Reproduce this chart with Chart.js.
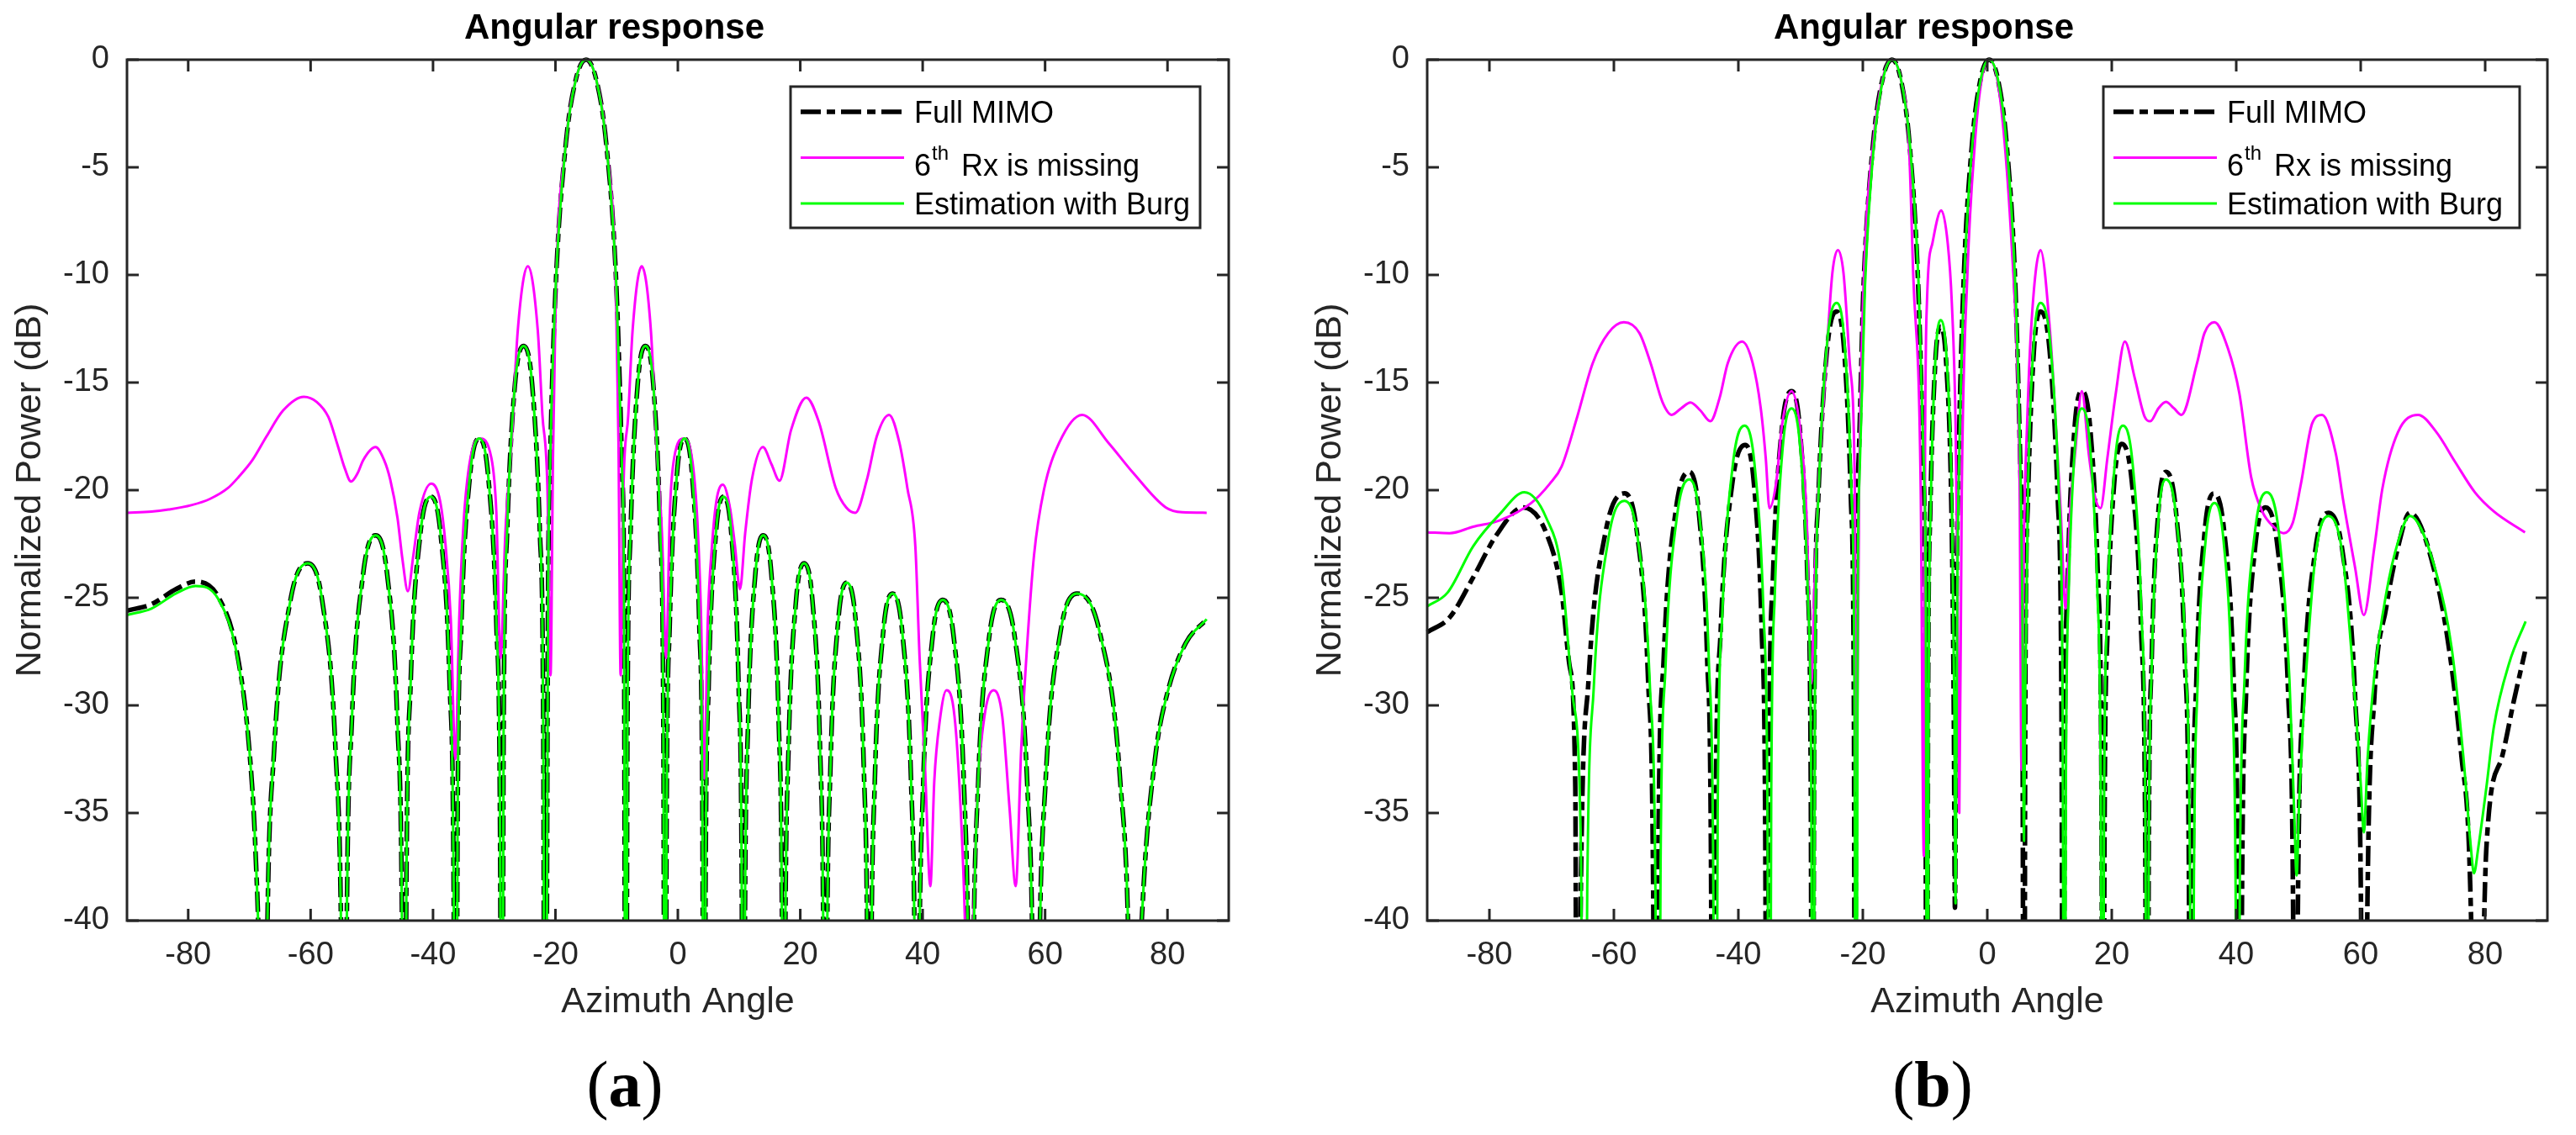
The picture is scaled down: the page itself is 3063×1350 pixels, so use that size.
<!DOCTYPE html>
<html>
<head>
<meta charset="utf-8">
<title>Angular response</title>
<script src="https://cdn.jsdelivr.net/npm/chart.js@4.4.1/dist/chart.umd.min.js"></script>
<style>
  html, body { margin: 0; padding: 0; background: #ffffff; }
  body { width: 3063px; height: 1350px; position: relative; overflow: hidden; }
  canvas { position: absolute; top: 0; }
  #chartA { left: 0; width: 1531px; height: 1225px; }
  #chartB { left: 1546px; width: 1517px; height: 1225px; }
  .sub { position: absolute; top: 1251px; width: 200px; margin-left: -100px; text-align: center;
         font-family: "Liberation Serif", "Times New Roman", serif; font-size: 78px; line-height: 1; color: #000; }
  .sub b { font-weight: bold; }
</style>
</head>
<body>
<canvas id="chartA" width="1531" height="1225"></canvas>
<canvas id="chartB" width="1517" height="1225"></canvas>
<div class="sub" style="left:743px">(<b>a</b>)</div>
<div class="sub" style="left:2298px">(<b>b</b>)</div>

<script>
// tick values, same on both panels
const xTickValues = [-80, -60, -40, -20, 0, 20, 40, 60, 80];
const yTickValues = [-40, -35, -30, -25, -20, -15, -10, -5, 0];

// legend text, ^{..} is a superscript like in matlab
const legendLabels = ['Full MIMO', '6^{th} Rx is missing', 'Estimation with Burg'];

// ---------------- panel (a) ----------------
// angles for Full MIMO and Burg (they share the same nulls here)
const angleA = [
  -90, -86, -82, -78.8, -75, -72, -70, -69, -68.3, -67.7,
  -67.12, -65.96, -63.35, -60.45, -58.07, -55.93, -54.98, -54.5,
  -54.09, -53.27, -51.42, -49.37, -47.5, -45.82, -45.07, -44.7,
  -44.35, -43.66, -42.1, -40.37, -38.74, -37.28, -36.63, -36.3,
  -35.99, -35.38, -33.99, -32.45, -30.97, -29.64, -29.05, -28.75,
  -28.47, -27.9, -26.62, -25.2, -23.8, -22.54, -21.98, -21.7,
  -21.2, -20.9, -19.95, -18.3, -16.65, -15, -13.35, -11.7, -10.05, -9.1, -8.8, -8.5,
  -8.24, -7.73, -6.57, -5.29, -4.01, -2.87, -2.36, -2.1,
  -1.84, -1.33, -0.19, 1.09, 2.36, 3.51, 4.02, 4.27,
  4.53, 5.04, 6.19, 7.47, 8.76, 9.92, 10.44, 10.7,
  10.96, 11.48, 12.66, 13.96, 15.28, 16.48, 17.01, 17.27,
  17.54, 18.08, 19.29, 20.63, 22.01, 23.24, 23.79, 24.07,
  24.35, 24.92, 26.19, 27.6, 29.07, 30.39, 30.98, 31.27,
  31.57, 32.18, 33.55, 35.07, 36.67, 38.1, 38.74, 39.06,
  39.4, 40.07, 41.59, 43.28, 45.1, 46.75, 47.48, 47.84,
  48.24, 49.04, 50.83, 52.82, 55.08, 57.11, 58.02, 58.47,
  59.01, 60.09, 62.51, 65.2, 68.92, 72.27, 73.76, 74.5,
  75.2, 76, 78, 80, 83, 86.4
];
const fullMimoA = [
  -25.6, -25.3, -24.6, -24.25, -25.0, -27.6, -32.1, -36.8, -43.7, -60,
  -41.4, -32.1, -25.2, -23.4, -25.2, -32.1, -41.4, -60,
  -40.1, -30.8, -23.9, -22.1, -23.9, -30.8, -40.1, -60,
  -38.3, -29.0, -22.1, -20.3, -22.1, -29.0, -38.3, -60,
  -35.6, -26.3, -19.4, -17.6, -19.4, -26.3, -35.6, -60,
  -31.3, -22.0, -15.1, -13.3, -15.1, -22.0, -31.3, -60,
  -24.7, -19.2, -10.5, -3.9, -0.9, 0, -0.9, -3.9, -10.5, -19.2, -24.7, -60,
  -31.3, -22.0, -15.1, -13.3, -15.1, -22.0, -31.3, -60,
  -35.6, -26.3, -19.4, -17.6, -19.4, -26.3, -35.6, -60,
  -38.3, -29.0, -22.1, -20.3, -22.1, -29.0, -38.3, -60,
  -40.1, -30.8, -23.9, -22.1, -23.9, -30.8, -40.1, -60,
  -41.4, -32.1, -25.2, -23.4, -25.2, -32.1, -41.4, -60,
  -42.3, -33.0, -26.1, -24.3, -26.1, -33.0, -42.3, -60,
  -42.8, -33.5, -26.6, -24.8, -26.6, -33.5, -42.8, -60,
  -43.1, -33.8, -26.9, -25.1, -26.9, -33.8, -43.1, -60,
  -43.1, -33.8, -26.9, -25.1, -26.9, -33.8, -43.1, -60,
  -42.8, -33.5, -26.6, -24.8, -26.6, -33.5, -42.8, -60,
  -45, -38.9, -32.4, -29.4, -27.1, -26.0
];
const burgA = [
  -25.8, -25.5, -24.8, -24.45, -25.1, -27.7, -32.1, -36.8, -43.7, -60,
  -41.4, -32.1, -25.2, -23.4, -25.2, -32.1, -41.4, -60,
  -40.1, -30.8, -23.9, -22.1, -23.9, -30.8, -40.1, -60,
  -38.3, -29.0, -22.1, -20.3, -22.1, -29.0, -38.3, -60,
  -35.6, -26.3, -19.4, -17.6, -19.4, -26.3, -35.6, -60,
  -31.3, -22.0, -15.1, -13.3, -15.1, -22.0, -31.3, -60,
  -24.7, -19.2, -10.5, -3.9, -0.9, 0, -0.9, -3.9, -10.5, -19.2, -24.7, -60,
  -31.3, -22.0, -15.1, -13.3, -15.1, -22.0, -31.3, -60,
  -35.6, -26.3, -19.4, -17.6, -19.4, -26.3, -35.6, -60,
  -38.3, -29.0, -22.1, -20.3, -22.1, -29.0, -38.3, -60,
  -40.1, -30.8, -23.9, -22.1, -23.9, -30.8, -40.1, -60,
  -41.4, -32.1, -25.2, -23.4, -25.2, -32.1, -41.4, -60,
  -42.3, -33.0, -26.1, -24.3, -26.1, -33.0, -42.3, -60,
  -42.8, -33.5, -26.6, -24.8, -26.6, -33.5, -42.8, -60,
  -43.1, -33.8, -26.9, -25.1, -26.9, -33.8, -43.1, -60,
  -43.1, -33.8, -26.9, -25.1, -26.9, -33.8, -43.1, -60,
  -42.8, -33.5, -26.6, -24.8, -26.6, -33.5, -42.8, -60,
  -45, -38.9, -32.4, -29.4, -27.1, -26.0
];
// 6th Rx missing, own angle list
const angleMissingA = [
  -90, -86, -83.2, -79.5, -76.4, -73.5, -71.8, -69.5, -67.2, -64.5,
  -61.1, -59, -57.1, -55.6, -54.4, -53.4, -52.3, -51.4, -49.4, -48,
  -47, -45.8, -45.0, -44.1, -43.2, -42.2, -40.3, -38.85, -37.97, -37.1,
  -36.34, -35.72, -35.0, -34.0, -32.35, -30.47, -29.66, -28.97, -28.18, -27.17,
  -26.16, -24.5, -22.88, -22.13, -21.3, -20.8, -20.4, -19.95, -18.3, -16.65,
  -15, -13.35, -11.7, -10.1, -9.7, -9.35, -8.9, -8.1, -7.4, -5.9,
  -4.4, -3.5, -2.6, -1.9, -1.3, -0.6, 1.0, 2.4, 3.2, 3.8,
  4.3, 4.9, 5.6, 6.3, 7.35, 8.5, 9.3, 10.15, 11.0, 12.1,
  13.9, 15.3, 16.6, 18.5, 21.0, 23, 25.8, 27.5, 29.0, 30.9,
  32.5, 34.5, 36.2, 37.5, 38.8, 39.5, 40.4, 41.25, 41.9, 42.8,
  43.9, 45.2, 46.2, 46.9, 47.6, 48.3, 49.0, 50.1, 51.6, 53.0,
  54.2, 55.2, 56.1, 57.0, 58.2, 59.8, 62.3, 66.05, 70.35, 74.4,
  79.7, 82.4, 86.4
];
const missingA = [
  -21.05, -21.0, -20.9, -20.7, -20.4, -19.9, -19.4, -18.6, -17.5, -16.3,
  -15.66, -15.9, -16.6, -17.9, -19.0, -19.6, -19.2, -18.6, -18.0, -18.6,
  -19.5, -21.3, -23.2, -24.7, -23.0, -21.0, -19.7, -20.5, -22.5, -26,
  -32.5, -26, -21.5, -18.7, -17.6, -18.5, -21, -27.8, -22, -17.8,
  -12.6, -9.6, -12.6, -16.5, -20, -28.6, -18.5, -11, -3.9, -0.9,
  0, -0.9, -3.9, -11, -17.8, -28.6, -20, -16.5, -12.6, -9.6,
  -12.6, -17.8, -22, -27.8, -21, -18.5, -17.6, -18.7, -21.5, -26,
  -33.4, -26, -22.5, -20.5, -19.75, -20.8, -22.5, -24.6, -22, -19.5,
  -18.0, -18.8, -19.56, -17.2, -15.7, -16.8, -19.9, -20.8, -21.05, -19.5,
  -17.5, -16.5, -17.8, -19.9, -22.6, -27.8, -33, -38.4, -33.5, -30.7,
  -29.3, -30.5, -34.8, -40, -50, -40, -34, -30.5, -29.3, -30.5,
  -34.8, -38.4, -32, -27.5, -23, -20, -17.8, -16.5, -17.8, -19.2,
  -20.8, -21.03, -21.05
];

// ---------------- panel (b) ----------------
const angleFullB = [
  -90, -86.35, -82.6, -78.9, -74.6, -70.85, -68.4, -67.1, -66.2, -65.9,
  -65.29, -64.08, -61.34, -58.3, -56.3, -54.5, -53.7, -53.3,
  -52.87, -52.0, -50.06, -47.9, -46.38, -45.01, -44.4, -44.1,
  -43.68, -42.85, -40.98, -38.9, -37.5, -36.24, -35.68, -35.4,
  -35.08, -34.45, -33.03, -31.45, -30.11, -28.9, -28.37, -28.1,
  -27.79, -27.16, -25.76, -24.2, -23.0, -21.92, -21.44, -21.2,
  -21.1, -20.79, -19.88, -18.35, -16.83, -15.3, -13.9, -12.5, -11.1, -10.26, -9.98, -9.7,
  -9.52, -9.17, -8.38, -7.5, -6.58, -5.75, -5.38, -5.2,
  -4.93, -4.65, -3.83, -2.45, -1.08, 0.3, 1.7, 3.1, 4.5, 5.34, 5.62, 5.9,
  6.11, 6.54, 7.49, 8.55, 10.01, 11.32, 11.91, 12.2,
  12.44, 12.92, 14.0, 15.2, 16.56, 17.78, 18.33, 18.6,
  18.84, 19.32, 20.4, 21.6, 23.24, 24.72, 25.37, 25.7,
  25.94, 26.42, 27.5, 28.7, 30.3, 31.74, 32.38, 32.7,
  33.0, 33.59, 34.92, 36.4, 38.08, 39.59, 40.26, 40.6,
  40.93, 41.58, 43.06, 44.7, 46.62, 48.35, 49.12, 49.5,
  49.92, 50.77, 52.68, 54.8, 57.08, 59.13, 60.04, 60.5,
  61.09, 62.2, 64.1, 66.0, 67.9, 72.1, 74.6, 76.2, 77.4, 78.1, 78.8,
  79.5, 80.2, 82.7, 84.6, 86.4
];
const fullMimoB = [
  -26.6, -25.9, -24.05, -22.1, -20.8, -22.0, -24.75, -28.2, -33.8, -60,
  -38.15, -28.85, -21.95, -20.15, -21.95, -28.85, -38.15, -60,
  -37.15, -27.85, -20.95, -19.15, -20.95, -27.85, -37.15, -60,
  -35.9, -26.6, -19.7, -17.9, -19.7, -26.6, -35.9, -60,
  -33.4, -24.1, -17.2, -15.4, -17.2, -24.1, -33.4, -60,
  -29.7, -20.4, -13.5, -11.7, -13.5, -20.4, -29.7, -60,
  -24.7, -19.2, -10.5, -3.9, -0.9, 0, -0.9, -3.9, -10.5, -19.2, -24.7, -60,
  -30.4, -21.1, -14.2, -12.4, -14.2, -21.1, -30.4, -39.4,
  -24.7, -19.2, -10.5, -3.9, -0.9, 0, -0.9, -3.9, -10.5, -19.2, -24.7, -60,
  -29.7, -20.4, -13.5, -11.7, -13.5, -20.4, -29.7, -60,
  -33.4, -24.1, -17.2, -15.4, -17.2, -24.1, -33.4, -60,
  -35.85, -26.55, -19.65, -17.85, -19.65, -26.55, -35.85, -60,
  -37.15, -27.85, -20.95, -19.15, -20.95, -27.85, -37.15, -60,
  -38.15, -28.85, -21.95, -20.15, -21.95, -28.85, -38.15, -60,
  -38.8, -29.5, -22.6, -20.8, -22.6, -29.5, -38.8, -60,
  -39.05, -29.75, -22.85, -21.05, -22.85, -29.75, -39.05, -60,
  -39, -29.6, -25.45, -22.65, -21.05, -24.05, -28.2, -32.4, -36.6, -45, -60,
  -45, -36.6, -32.4, -29.8, -27.5
];
const angleBurgB = [
  -90, -86.7, -82.6, -78.3, -74.4, -70.85, -68.4, -66.6, -65.3, -64.8,
  -64.28, -63.24, -60.9, -58.3, -56.14, -54.2, -53.33, -52.9,
  -52.5, -51.7, -49.9, -47.9, -46.22, -44.71, -44.04, -43.7,
  -43.32, -42.57, -40.88, -39.0, -37.4, -35.96, -35.32, -35.0,
  -34.72, -34.15, -32.87, -31.45, -30.07, -28.83, -28.28, -28.0,
  -27.7, -27.09, -25.72, -24.2, -22.96, -21.84, -21.35, -21.1,
  -20.81, -20.52, -19.65, -18.2, -16.75, -15.3, -13.88, -12.45, -11.03, -10.17, -9.89, -9.6,
  -9.43, -9.1, -8.34, -7.5, -6.54, -5.68, -5.29, -5.1,
  -4.83, -4.56, -3.75, -2.4, -1.05, 0.3, 1.7, 3.1, 4.5, 5.34, 5.62, 5.9,
  6.11, 6.54, 7.49, 8.55, 10.09, 11.48, 12.09, 12.4,
  12.62, 13.07, 14.08, 15.2, 16.52, 17.71, 18.24, 18.5,
  18.76, 19.29, 20.48, 21.8, 23.36, 24.76, 25.39, 25.7,
  25.94, 26.42, 27.5, 28.7, 30.38, 31.89, 32.56, 32.9,
  33.19, 33.76, 35.06, 36.5, 37.98, 39.31, 39.9, 40.2,
  40.58, 41.33, 43.02, 44.9, 46.82, 48.55, 49.32, 49.7,
  50.11, 50.92, 52.76, 54.8, 57.08, 59.13, 60.04, 60.5,
  61.1, 62.2, 64.1, 66.0, 67.9, 72.1, 74.6, 76.5, 77.7, 78.2,
  78.9, 80.2, 81.4, 83.9, 86.5
];
const burgB = [
  -25.4, -24.75, -22.6, -21.1, -20.1, -21.3, -23.8, -29.6, -36.6, -60,
  -38.5, -29.2, -22.3, -20.5, -22.3, -29.2, -38.5, -60,
  -37.5, -28.2, -21.3, -19.5, -21.3, -28.2, -37.5, -60,
  -35.0, -25.7, -18.8, -17.0, -18.8, -25.7, -35.0, -60,
  -34.2, -24.9, -18.0, -16.2, -18.0, -24.9, -34.2, -60,
  -29.3, -20.0, -13.1, -11.3, -13.1, -20.0, -29.3, -60,
  -24.7, -19.2, -10.5, -3.9, -0.9, 0, -0.9, -3.9, -10.5, -19.2, -24.7, -60,
  -30.1, -20.8, -13.9, -12.1, -13.9, -20.8, -30.1, -39.2,
  -24.7, -19.2, -10.5, -3.9, -0.9, 0, -0.9, -3.9, -10.5, -19.2, -24.7, -36.3,
  -29.3, -20.0, -13.1, -11.3, -13.1, -20.0, -29.3, -60,
  -34.2, -24.9, -18.0, -16.2, -18.0, -24.9, -34.2, -60,
  -35.0, -25.7, -18.8, -17.0, -18.8, -25.7, -35.0, -60,
  -37.5, -28.2, -21.3, -19.5, -21.3, -28.2, -37.5, -60,
  -38.6, -29.3, -22.4, -20.6, -22.4, -29.3, -38.6, -60,
  -38.1, -28.8, -21.9, -20.1, -21.9, -28.8, -35, -37.9,
  -34.5, -29.9, -23.0, -21.2, -23.0, -29.9, -33.8, -35.9,
  -32.5, -28.6, -24.8, -22.4, -21.2, -23.8, -27.3, -32.4, -36.6, -37.8,
  -36.6, -33.8, -31.0, -28.0, -26.1
];
const angleMissingB = [
  -90, -86.4, -82.6, -78.3, -73.3, -70.3, -68.4, -65.9, -63.4, -60.9,
  -58.4, -55.9, -54.1, -52.2, -50.7, -49.2, -47.7, -46.1, -44.5, -43.0,
  -41.7, -39.4, -37.7, -36.4, -35.6, -35.0, -33.9, -33.0, -31.45, -29.9,
  -29.0, -28.3, -27.6, -27.1, -25.9, -24.9, -24.0, -23.1, -22.1, -21.3,
  -21.0, -20.6, -19.88, -18.35, -16.83, -15.3, -13.9, -12.6, -11.9, -10.7,
  -10.2, -10.0, -9.7, -8.8, -7.4, -6.35, -5.7, -5.1, -4.8, -4.5,
  -4.1, -3.2, -2.0, -0.9, 0.3, 1.6, 2.8, 3.9, 4.8, 5.2,
  5.5, 5.9, 6.4, 7.0, 8.55, 10.1, 11.0, 11.8, 12.6, 13.3,
  14.1, 15.2, 16.3, 17.3, 18.2, 19.3, 20.65, 22.1, 23.7, 25.3,
  26.2, 27.5, 28.7, 30.0, 31.2, 33.7, 34.9, 36.5, 38.65, 40.5,
  42.4, 44.2, 46.0, 47.6, 49.1, 50.4, 52.2, 53.8, 56.0, 57.2,
  59.1, 60.5, 62.2, 63.5, 66.0, 69.2, 72.15, 75.2, 78.35, 81.45,
  86.4
];
const missingB = [
  -21.96, -22.0, -21.7, -21.4, -20.6, -19.7, -18.9, -16.6, -14.1, -12.7,
  -12.2, -12.7, -14.1, -15.9, -16.5, -16.2, -15.93, -16.3, -16.8, -15.7,
  -14.1, -13.1, -14.1, -16.2, -18.5, -20.84, -19.6, -17.0, -15.4, -17.6,
  -21.5, -29, -23, -19.7, -14.1, -9.93, -8.85, -9.93, -14.1, -19.7,
  -34, -20, -10.5, -3.9, -0.9, 0, -0.9, -3.9, -10, -20,
  -37, -18, -11.3, -8.5, -7.0, -8.55, -11.3, -16.9, -24, -35,
  -20, -10, -3.9, -0.9, 0, -0.9, -3.9, -8.54, -14.1, -20,
  -33, -22, -16.9, -12.7, -8.85, -12.7, -16.9, -21, -25.5, -21,
  -18.3, -15.4, -18.3, -20.3, -20.84, -18.5, -15.5, -13.1, -14.8, -16.6,
  -16.8, -16.2, -15.9, -16.2, -16.5, -14.1, -12.7, -12.2, -13.4, -15.5,
  -19.4, -21.0, -21.7, -22.0, -21.5, -19.7, -16.9, -16.5, -18.3, -20.5,
  -23.6, -25.8, -22.65, -19.9, -17.3, -16.5, -17.3, -18.7, -20.1, -21.0,
  -21.96
];

const fontFamily = '"Liberation Sans", Arial, Helvetica, sans-serif';

// pair up angle and dB lists into {x,y} points for chart.js
function toPoints(angles, values) {
  if (angles.length != values.length) {
    console.log("length mismatch", angles.length, values.length);
  }
  const pts = [];
  for (let i = 0; i < angles.length; i++) {
    pts.push({ x: angles[i], y: values[i] });
  }
  return pts;
}

// writes a legend label, handles one ^{...} superscript
function drawLabel(ctx, text, x, rowY) {
  ctx.fillStyle = '#000000';
  ctx.textAlign = 'left';
  ctx.textBaseline = 'alphabetic';
  ctx.font = '36px ' + fontFamily;
  const m = text.match(/^(.*?)\^\{(.*?)\}(.*)$/);
  if (!m) {
    ctx.fillText(text, x, rowY + 13);
    return;
  }
  const base = rowY + 21;
  ctx.fillText(m[1], x, base);
  let cx = x + ctx.measureText(m[1]).width + 1;
  ctx.font = '24px ' + fontFamily;
  ctx.fillText(m[2], cx, base - 19);
  cx += ctx.measureText(m[2]).width;
  ctx.font = '36px ' + fontFamily;
  ctx.fillText(m[3], cx + 5, base);
} // END drawLabel

// matlab look: full box, inward ticks on all four sides, boxed legend
const matlabAxes = {
  id: 'matlabAxes',
  afterDraw(chart, args, opts) {
    const ctx = chart.ctx;
    const area = chart.chartArea;
    const xs = chart.scales.x;
    const ys = chart.scales.y;
    ctx.save();
    ctx.strokeStyle = '#262626';
    ctx.lineWidth = 3;
    ctx.setLineDash([]);
    ctx.beginPath();
    xs.ticks.forEach(function (t) {
      const px = xs.getPixelForValue(t.value);
      ctx.moveTo(px, area.bottom); ctx.lineTo(px, area.bottom - 14);
      ctx.moveTo(px, area.top); ctx.lineTo(px, area.top + 14);
    });
    ys.ticks.forEach(function (t) {
      const py = ys.getPixelForValue(t.value);
      ctx.moveTo(area.left, py); ctx.lineTo(area.left + 14, py);
      ctx.moveTo(area.right, py); ctx.lineTo(area.right - 14, py);
    });
    ctx.stroke();
    ctx.strokeRect(area.left, area.top, area.right - area.left, area.bottom - area.top);

    // legend box
    const bx = area.right - opts.rightGap - opts.width;
    const by = area.top + opts.topGap;
    ctx.fillStyle = '#ffffff';
    ctx.fillRect(bx, by, opts.width, opts.height);
    ctx.strokeRect(bx, by, opts.width, opts.height);
    chart.data.datasets.forEach(function (ds, i) {
      const rowY = by + 30 + i * 54.5;
      ctx.save();
      ctx.strokeStyle = ds.borderColor;
      ctx.lineWidth = ds.borderWidth;
      ctx.lineCap = 'butt';
      ctx.setLineDash(ds.borderDash || []);
      ctx.beginPath();
      ctx.moveTo(bx + 12, rowY);
      ctx.lineTo(bx + 135, rowY);
      ctx.stroke();
      ctx.restore();
      drawLabel(ctx, ds.label, bx + 147, rowY);
    });
    ctx.restore();
  }
}; // END matlabAxes

function makePanel(canvasId, padRight, legendWidth, legendGap, full, missing, burg) {
  const canvas = document.getElementById(canvasId);
  const clipBox = { left: 2, top: 6, right: 2, bottom: 0 };
  return new Chart(canvas, {
    type: 'line',
    data: {
      datasets: [
        { label: legendLabels[0], data: full, borderColor: '#000000', borderWidth: 5.5,
          borderDash: [24, 7, 10, 7], order: 3, clip: clipBox },
        { label: legendLabels[1], data: missing, borderColor: '#ff00ff', borderWidth: 3,
          order: 2, clip: clipBox },
        { label: legendLabels[2], data: burg, borderColor: '#00ff00', borderWidth: 3,
          order: 1, clip: clipBox }
      ]
    },
    options: {
      responsive: false,
      animation: false,
      devicePixelRatio: 1,
      layout: { padding: { left: 0, right: padRight, top: 0, bottom: 0 } },
      elements: {
        point: { radius: 0 },
        line: { cubicInterpolationMode: 'monotone', borderCapStyle: 'butt', borderJoinStyle: 'round', fill: false }
      },
      scales: {
        x: {
          type: 'linear', min: -90, max: 90,
          afterBuildTicks: function (s) { s.ticks = xTickValues.map(function (v) { return { value: v }; }); },
          afterFit: function (s) { s.height = 130; },
          grid: { display: false, drawTicks: false },
          border: { display: false },
          ticks: { font: { family: fontFamily, size: 38 }, color: '#262626', padding: 19,
                   maxRotation: 0, autoSkip: false },
          title: { display: true, text: 'Azimuth Angle', color: '#262626',
                   font: { family: fontFamily, size: 43 }, padding: { top: 0, bottom: 7 } }
        },
        y: {
          type: 'linear', min: -40, max: 0,
          afterBuildTicks: function (s) { s.ticks = yTickValues.map(function (v) { return { value: v }; }); },
          afterFit: function (s) { s.width = 151; },
          grid: { display: false, drawTicks: false },
          border: { display: false },
          ticks: { font: { family: fontFamily, size: 38 }, color: '#262626', padding: 21, autoSkip: false },
          title: { display: true, text: 'Normalized Power (dB)', color: '#262626',
                   font: { family: fontFamily, size: 43 }, padding: { top: 10, bottom: 0 } }
        }
      },
      plugins: {
        legend: { display: false },
        tooltip: { enabled: false },
        title: { display: true, text: 'Angular response', color: '#000000',
                 font: { family: fontFamily, size: 42, weight: 'bold' },
                 padding: { top: 9.5, bottom: 11.1 } },
        matlabAxes: { width: legendWidth, height: 168, rightGap: legendGap, topGap: 32 }
      }
    },
    plugins: [matlabAxes]
  });
} // END makePanel

makePanel('chartA', 70, 487, 34,
  toPoints(angleA, fullMimoA), toPoints(angleMissingA, missingA), toPoints(angleA, burgA));
makePanel('chartB', 34, 495, 33,
  toPoints(angleFullB, fullMimoB), toPoints(angleMissingB, missingB), toPoints(angleBurgB, burgB));
console.log("charts drawn");
</script>
</body>
</html>
